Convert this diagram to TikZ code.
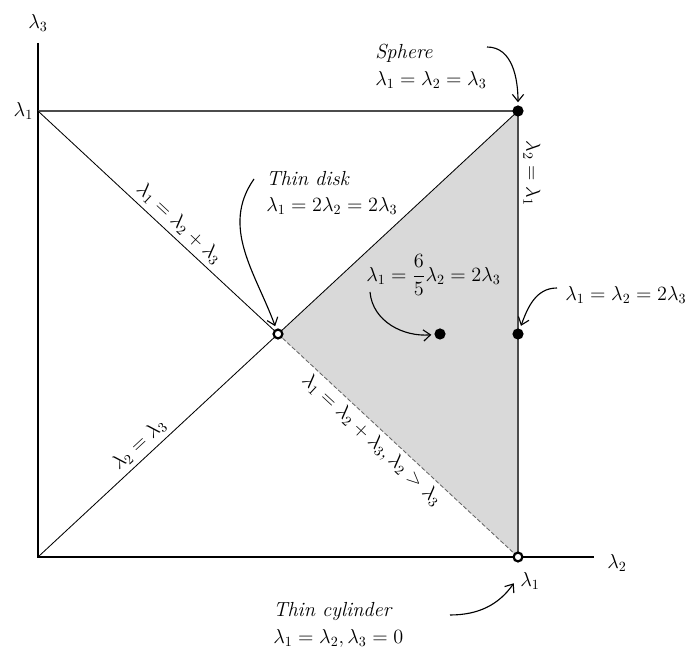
\documentclass[tikz,border=0pt]{standalone}
\usepackage{amsmath}
\usepackage{amssymb}
\usetikzlibrary{arrows,arrows.meta,positioning,calc}

\begin{document}
\begin{tikzpicture}[font=\fontsize{14.5}{19}\selectfont,
    edge/.style={draw=black!70, line width=0.8pt},
    diag/.style={draw=black, line width=0.6pt},
    soliddot/.style={circle, fill=black, inner sep=0pt, minimum size=0.28cm},
    opendot/.style={circle, draw=black, fill=white, line width=1.6pt, inner sep=0pt, minimum size=0.22cm},
    callout/.style={-{Straight Barb[length=5pt, width=8pt]}, line width=0.8pt, shorten >=2pt},
    note/.style={align=left, anchor=west, inner sep=0pt}]
  \useasboundingbox (-0.95,-2.3) rectangle (16.3,13.925);

  \coordinate (origin) at (0, 0);
  \coordinate (topleft) at (0, 11.15);
  \coordinate (sphere) at (12, 11.15);
  \coordinate (disk) at (6, 5.575);
  \coordinate (cyl) at (12, 0);
  \coordinate (xend) at (13.9, 0);
  \coordinate (yend) at (0, 12.85);

  \fill[black!15] (disk) -- (sphere) -- (cyl) -- cycle;

  \draw[line width=0.8pt] (yend) -- (origin) -- (xend);
  \draw[edge] (topleft) -- (sphere);
  \draw[edge] (sphere) -- node[pos=0.14, above, sloped] {$\lambda_2 = \lambda_1$} (cyl);
  \draw[diag] (topleft) -- node[pos=0.55, above, sloped] {$\lambda_1 = \lambda_2 + \lambda_3$} (disk);
  \draw[diag] (origin) -- node[pos=0.46, above, sloped] {$\lambda_2 = \lambda_3$} (disk) -- (sphere);
  \draw[diag, draw=black!60, dash pattern=on 3pt off 1.5pt] (disk) --
    node[pos=0.43, below, sloped] {$\lambda_1 = \lambda_2 + \lambda_3, \lambda_2 > \lambda_3$} (cyl);

  \node[soliddot] (sphdot) at (sphere) {};
  \node[soliddot] (middot) at (12, 5.575) {};
  \node[soliddot] (fracdot) at (10.05, 5.575) {};
  \node[opendot] (diskdot) at (disk) {};
  \node[opendot] (cyldot) at (cyl) {};

  \node (l3) at (0, 13.35) {$\lambda_3$};
  \node (l2) at (14.475, -0.15) {$\lambda_2$};
  \node[left] (l1top) at (topleft) {$\lambda_1$};
  \node (l1bot) at (12.3, -0.6) {$\lambda_1$};

  \node[note] (spheretxt) at (8.425, 12.275) {\textit{Sphere}\\ $\lambda_1 = \lambda_2 = \lambda_3$};
  \node[note] (disktxt) at (5.7, 9.1) {\textit{Thin disk}\\ $\lambda_1 = 2\lambda_2 = 2\lambda_3$};
  \node[note] (fractxt) at (8.2, 7.05) {$\lambda_1 = \dfrac{6}{5}\lambda_2 = 2\lambda_3$};
  \node[note] (midtxt) at (13.175, 6.55) {$\lambda_1 = \lambda_2 = 2\lambda_3$};
  \node[note] (cyltxt) at (5.875, -1.7) {\textit{Thin cylinder}\\ $\lambda_1 = \lambda_2, \lambda_3 = 0$};

  \coordinate (spherearr) at (11.225, 12.75);
  \coordinate (diskarr) at (5.4, 9.45);
  \coordinate (fracarr) at (8.3, 6.625);
  \coordinate (midarr) at (12.975, 6.725);
  \coordinate (cylarr) at (10.3, -1.45);

  \draw[callout] (spherearr) to[out=0, in=90] (sphdot);
  \draw[callout] (diskarr) to[out=235, in=110] (diskdot);
  \draw[callout] (fracarr) to[out=-85, in=185] (fracdot);
  \draw[callout] (midarr) to[out=180, in=70] (middot);
  \draw[callout] (cylarr) to[out=0, in=235] (l1bot.west);
\end{tikzpicture}
\end{document}
